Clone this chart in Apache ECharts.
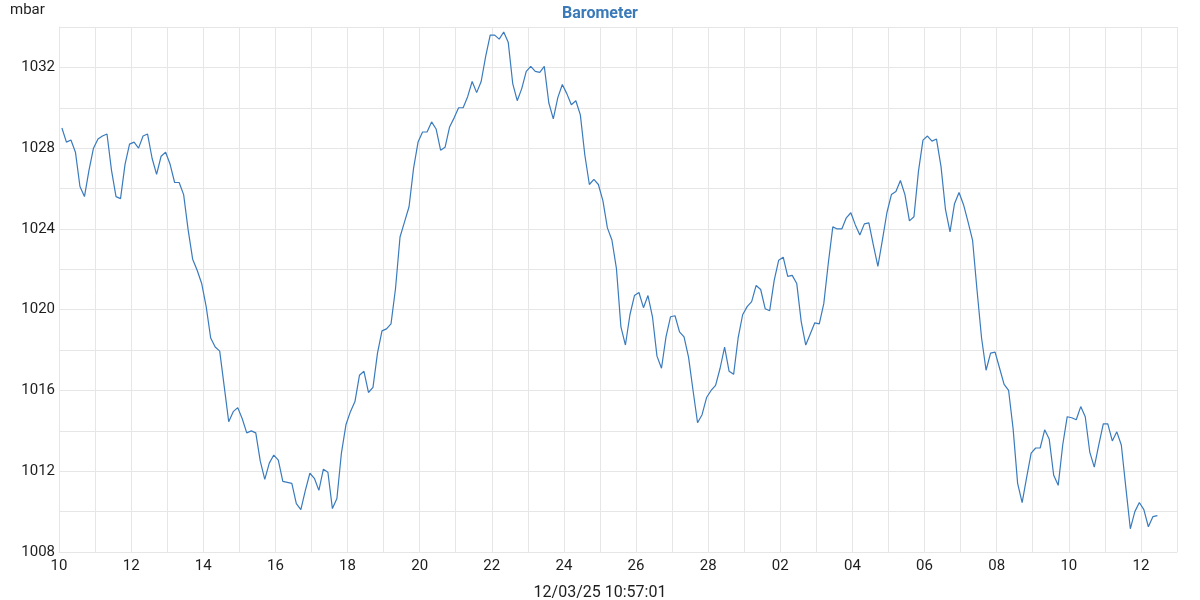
<!DOCTYPE html>
<html>
<head>
<meta charset="utf-8">
<script src="https://cdn.jsdelivr.net/npm/echarts@6/dist/echarts.min.js"></script>
<style>
html,body{margin:0;padding:0;background:#fff;}
#chart{width:1200px;height:600px;}
</style>
</head>
<body>
<div id="chart"></div>
<script>
// Day labels for each day from 10 Feb 2025 (index 0) to 13 Mar 2025 (index 31)
const dayLabels = ['10','11','12','13','14','15','16','17','18','19','20','21','22','23','24','25','26','27','28',
                   '01','02','03','04','05','06','07','08','09','10','11','12','13'];
// Readings every 3 hours starting 10 Feb 01:57 (in days since 10 Feb 00:00)
const firstSampleDay = 0.081;
const sampleStepDays = 0.125;
const pressure = [
1029.0,1028.3,1028.4,1027.8,1026.1,1025.6,1026.9,1028.0,1028.45,1028.6,
1028.7,1026.9,1025.6,1025.5,1027.2,1028.2,1028.3,1028.0,1028.6,1028.7,
1027.5,1026.7,1027.6,1027.8,1027.2,1026.3,1026.3,1025.7,1023.95,1022.5,
1021.95,1021.3,1020.15,1018.6,1018.15,1017.95,1016.2,1014.45,1014.95,1015.15,
1014.6,1013.9,1014.0,1013.9,1012.5,1011.6,1012.4,1012.8,1012.55,1011.5,
1011.45,1011.4,1010.4,1010.1,1011.05,1011.9,1011.65,1011.05,1012.1,1011.95,
1010.15,1010.65,1012.9,1014.3,1014.95,1015.45,1016.75,1016.95,1015.9,1016.15,
1017.85,1018.95,1019.05,1019.3,1021.05,1023.6,1024.35,1025.1,1027.0,1028.3,
1028.8,1028.8,1029.3,1028.95,1027.9,1028.05,1029.05,1029.5,1030.0,1030.0,
1030.55,1031.3,1030.75,1031.3,1032.55,1033.6,1033.6,1033.4,1033.75,1033.25,
1031.2,1030.35,1030.95,1031.8,1032.05,1031.8,1031.75,1032.05,1030.25,1029.45,
1030.5,1031.15,1030.7,1030.15,1030.35,1029.65,1027.65,1026.2,1026.45,1026.2,
1025.4,1024.05,1023.45,1022.05,1019.15,1018.25,1019.75,1020.7,1020.85,1020.1,
1020.7,1019.65,1017.7,1017.1,1018.65,1019.65,1019.7,1018.9,1018.65,1017.65,
1016.0,1014.4,1014.8,1015.65,1016.0,1016.25,1017.1,1018.15,1016.95,1016.8,
1018.6,1019.75,1020.15,1020.4,1021.2,1021.0,1020.05,1019.95,1021.45,1022.45,
1022.6,1021.65,1021.7,1021.3,1019.4,1018.25,1018.8,1019.35,1019.3,1020.3,
1022.3,1024.1,1024.0,1024.0,1024.55,1024.8,1024.2,1023.7,1024.25,1024.3,
1023.2,1022.15,1023.45,1024.8,1025.7,1025.85,1026.4,1025.7,1024.4,1024.6,
1026.85,1028.4,1028.6,1028.35,1028.45,1027.1,1024.95,1023.85,1025.25,1025.8,
1025.2,1024.35,1023.45,1020.95,1018.6,1017.0,1017.85,1017.9,1017.1,1016.3,
1016.0,1014.1,1011.4,1010.45,1011.7,1012.9,1013.15,1013.15,1014.05,1013.6,
1011.8,1011.3,1013.3,1014.7,1014.65,1014.55,1015.2,1014.7,1012.95,1012.2,
1013.3,1014.35,1014.35,1013.5,1013.95,1013.3,1011.2,1009.15,1010.0,1010.45,
1010.1,1009.25,1009.75,1009.8
];
const titleText = 'Barometer';
const unitText = 'mbar';
const timestampText = '12/03/25 10:57:01';

const seriesData = pressure.map((v, i) => [firstSampleDay + i * sampleStepDays, v]);

const chart = echarts.init(document.getElementById('chart'), null, {renderer: 'canvas'});
const labelColor = '#1e1e1e';
const gridColor = '#e6e6e6';
const lineColor = '#3a7bbd';
const font = 'Roboto';

chart.setOption({
  animation: false,
  backgroundColor: '#fff',
  textStyle: {fontFamily: font},
  title: {
    text: titleText,
    left: 'center',
    top: 1,
    textStyle: {color: '#3a7ab8', fontSize: 16, fontWeight: 'bold', fontFamily: font}
  },
  graphic: [
    {type: 'text', left: 10, top: 3, style: {text: unitText, fill: labelColor, font: '15px Roboto'}},
    {type: 'text', left: 'center', top: 585, style: {text: timestampText, fill: labelColor, font: '16px Roboto'}}
  ],
  grid: {left: 59, right: 23, top: 27, bottom: 48, containLabel: false},
  xAxis: {
    type: 'value',
    min: 0,
    max: 31,
    interval: 1,
    axisLine: {show: true, lineStyle: {color: gridColor, width: 1}},
    axisTick: {show: false},
    splitLine: {show: true, lineStyle: {color: gridColor, width: 1}},
    axisLabel: {
      color: labelColor,
      fontSize: 15,
      fontFamily: font,
      margin: 7,
      formatter: v => (Math.round(v) % 2 === 0 ? dayLabels[Math.round(v)] : '')
    }
  },
  yAxis: {
    type: 'value',
    min: 1008,
    max: 1034,
    interval: 2,
    axisLine: {show: true, lineStyle: {color: gridColor, width: 1}},
    axisTick: {show: false},
    splitLine: {show: true, lineStyle: {color: gridColor, width: 1}},
    axisLabel: {
      color: labelColor,
      fontSize: 15,
      fontFamily: font,
      margin: 4,
      formatter: v => ((v - 1008) % 4 === 0 ? String(v) : '')
    }
  },
  series: [{
    type: 'line',
    data: seriesData,
    showSymbol: false,
    symbol: 'none',
    lineStyle: {color: lineColor, width: 1.2},
    itemStyle: {color: lineColor}
  }]
});
</script>
</body>
</html>
